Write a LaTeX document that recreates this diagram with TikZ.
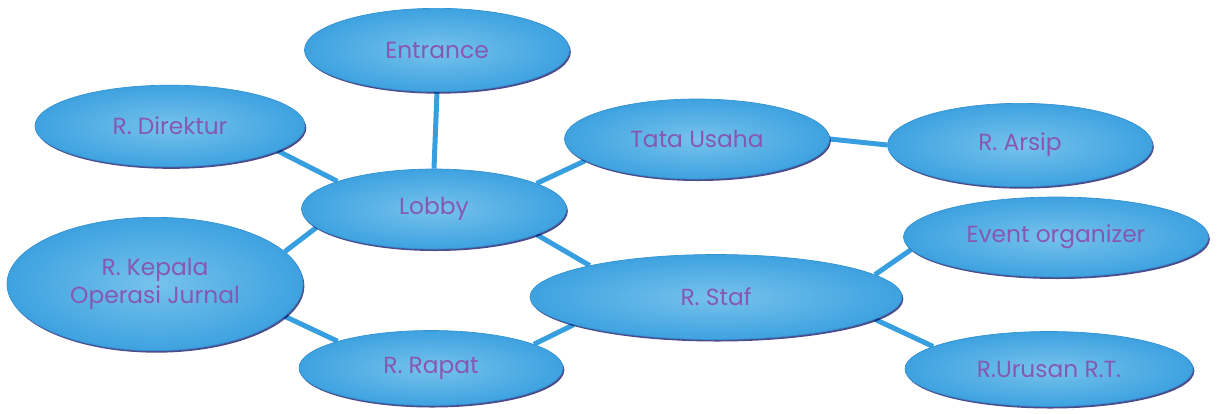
\documentclass[tikz,border=0pt]{standalone}
\usepackage{fontspec}
\setmainfont{Poppins}
\usepackage{tikz}
\usetikzlibrary{shapes.geometric,shadows,backgrounds}
\usepackage{xcolor}

\definecolor{bubblein}{RGB}{118,194,236}
\definecolor{bubbleout}{RGB}{62,162,224}
\definecolor{bubbleedge}{RGB}{50,145,210}
\definecolor{linkblue}{RGB}{55,158,224}
\definecolor{roomtext}{RGB}{135,88,178}

\begin{document}
\begin{tikzpicture}[
  x=0.6pt, y=-0.6pt,
  room/.style={ellipse, inner sep=0pt, minimum width=#1*0.6pt,
    inner color=bubblein, outer color=bubbleout, draw=bubbleedge, line width=0.4pt,
    drop shadow={shadow xshift=0.8pt, shadow yshift=-1.2pt, fill=black!65!blue, opacity=0.7},
    font=\fontsize{14}{16.5}\selectfont, text=roomtext, align=center},
  room/.default=265,
  link/.style={draw=linkblue, line width=3pt}
]
\useasboundingbox (0,0) rectangle (1221,413);

% Rooms
\node[room, minimum height=50pt] (entrance) at (437,50) {Entrance};
\node[room=270, minimum height=49pt] (direktur) at (170,126) {R. Direktur};
\node[room, minimum height=48pt] (lobby) at (434,209) {Lobby};
\node[room, minimum height=48pt] (tata) at (697,139) {Tata Usaha};
\node[room, minimum height=50pt] (arsip) at (1020,145) {R. Arsip};
\node[room=305, minimum height=48pt] (event) at (1056,237) {Event organizer};
\node[room=296, minimum height=80pt] (kepala) at (155,284) {R. Kepala\\Operasi Jurnal};
\node[room=372, minimum height=51pt] (staf) at (716,297) {R. Staf};
\node[room=264, minimum height=45pt] (rapat) at (431,368) {R. Rapat};
\node[room=288, minimum height=45pt] (urusan) at (1049,369) {R.Urusan R.T.};

% Corridors
\begin{scope}[on background layer]
\draw[link] (entrance.south) -- (lobby.north);
\draw[link] (direktur.-13) -- (lobby.164);
\draw[link] (lobby.14) -- (tata.-169);
\draw[link] (tata.east) -- (arsip.west);
\draw[link] (lobby.-14) -- (staf.166);
\draw[link] (lobby.-171) -- (kepala.14);
\draw[link] (kepala.-14) -- (rapat.164);
\draw[link] (rapat.13) -- (staf.-169);
\draw[link] (staf.8) -- (event.185);
\draw[link] (staf.-8) -- (urusan.169);
\end{scope}

\end{tikzpicture}
\end{document}
